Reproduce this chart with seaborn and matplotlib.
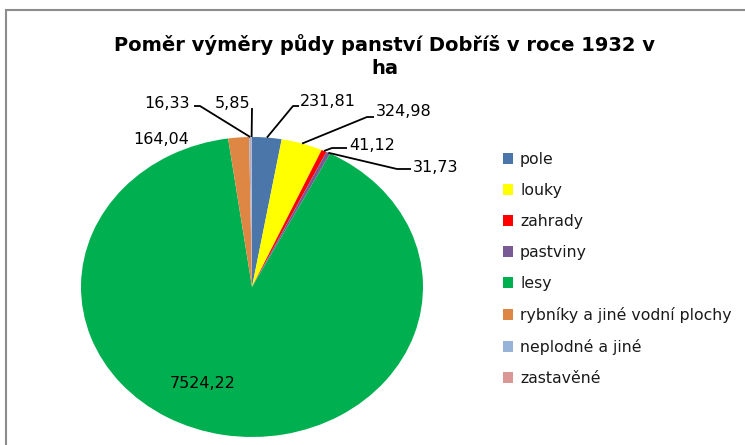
import matplotlib
matplotlib.use('Agg')
import matplotlib.pyplot as plt
import seaborn as sns
import numpy as np
from matplotlib.patches import Rectangle, Patch

# data
categories = ['pole', 'louky', 'zahrady', 'pastviny', 'lesy',
              'rybníky a jiné vodní plochy', 'neplodné a jiné', 'zastavěné']
values = [231.81, 324.98, 41.12, 31.73, 7524.22, 164.04, 16.33, 5.85]
colors = ['#4A76AA', '#FFFF00', '#FF0000', '#7A5A94', '#00B050',
          '#DE8744', '#98B3D8', '#D99795']
title = 'Poměr výměry půdy panství Dobříš v roce 1932 v\nha'

sns.set_theme(style='white')
plt.rcParams['font.family'] = ['DejaVu Sans']
plt.rcParams['text.color'] = 'black'

W, H = 745, 445
fig = plt.figure(figsize=(W / 100, H / 100), dpi=100)

# pie geometry in pixels (the original is stretched sideways)
cx, cy, rx, ry = 252, 287, 171, 150
lim = 1.2
ax = fig.add_axes([(cx - lim * rx) / W, (H - cy - lim * ry) / H,
                   2 * lim * rx / W, 2 * lim * ry / H])
wedges, _ = ax.pie(values, colors=sns.color_palette(colors), startangle=90,
                   counterclock=False, wedgeprops=dict(linewidth=0))
ax.set_aspect('auto')
ax.set_xlim(-lim, lim)
ax.set_ylim(-lim, lim)


def px(x, y):
    return (x - cx) / rx, (cy - y) / ry


# label layout: text centre and leader points (pixels), None = no line
layout = {
    'pole': ((328, 102), [(299, 106), (293, 106)]),
    'louky': ((404, 112), [(374, 117), (367, 117)]),
    'zahrady': ((372, 146), [(347, 148), (332, 148)]),
    'pastviny': ((436, 168), [(411, 169), (397, 169)]),
    'lesy': ((203, 383), None),
    'rybníky a jiné vodní plochy': ((161, 139), None),
    'neplodné a jiné': ((167, 104), [(194, 106), (200, 106)]),
    'zastavěné': ((233, 104), [(252, 108)]),
}

for w, cat, val in zip(wedges, categories, values):
    (tx, ty), pts = layout[cat]
    lab = f'{val:.2f}'.replace('.', ',')
    x, y = px(tx, ty)
    ax.text(x, y, lab, ha='center', va='center', fontsize=11.5, color='black')
    if pts:
        mid = np.deg2rad((w.theta1 + w.theta2) / 2)
        line = [px(*p) for p in pts] + [(np.cos(mid), np.sin(mid))]
        xs, ys = zip(*line)
        ax.plot(xs, ys, color='black', lw=1.3, clip_on=False,
                solid_capstyle='butt')

fig.text(385 / W, 1 - 56 / H, title, ha='center', va='center',
         fontsize=14, fontweight='bold', linespacing=1.3, color='black')

handles = [Patch(facecolor=c, edgecolor='none') for c in colors]
leg = fig.legend(handles, categories, loc='upper left',
                 bbox_to_anchor=(503 / W, 1 - 152 / H), frameon=False,
                 fontsize=11.3, handlelength=0.64, handleheight=0.64,
                 handletextpad=0.45, labelspacing=1.02, borderpad=0,
                 borderaxespad=0)
for t in leg.get_texts():
    t.set_color('#1a1a1a')

fig.add_artist(Rectangle((6 / W, -0.1), 1.2, 0.1 + (H - 9.5) / H,
                         transform=fig.transFigure, fill=False,
                         edgecolor='#8c8c8c', lw=1.5, clip_on=False))

fig.savefig('out.png', dpi=100, facecolor='white')
